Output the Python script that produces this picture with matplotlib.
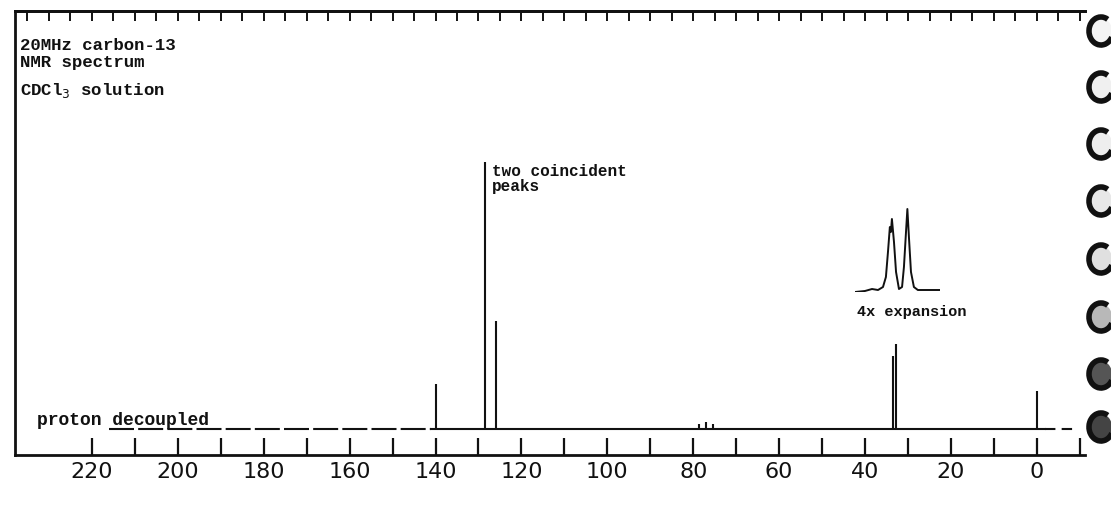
import matplotlib
matplotlib.use('Agg')
import matplotlib.pyplot as plt
from matplotlib.patches import Arc, Ellipse
from matplotlib.ticker import FixedLocator, MultipleLocator

# 13C spectrum, chemical shifts in ppm and peak heights (chart units)
peak_ppm = [139.8, 128.4, 126.0, 78.6, 77.0, 75.4, 33.5, 32.8, 0.0]
peak_height = [45, 267, 108, 5, 7, 5, 73, 85, 38]

# 4x horizontal expansion of the aliphatic pair
exp_ppm = [34.02, 33.44, 33.03, 32.68, 32.39, 32.22, 32.10, 31.99, 31.93,
           31.87, 31.75, 31.63, 31.46, 31.28, 31.17, 31.05, 30.97, 30.88,
           30.76, 30.59, 30.36, 29.66, 29.07]
exp_int = [0, 1, 3, 2, 5, 15, 40, 65, 60, 73, 50, 20, 3, 5, 25, 60, 83, 55,
           20, 5, 2, 2, 2]

tick_ppm = [220, 200, 180, 160, 140, 120, 100, 80, 60, 40, 20, 0]
minor_ppm = [210, 190, 170, 150, 130, 110, 90, 70, 50, 30, 10, -10]

W, H = 1111, 506
INK = '#111111'
MONO = 'Liberation Mono'


def fx(px):
    return px / W


def fy(py):
    return 1 - py / H


fig = plt.figure(figsize=(W / 100, H / 100), dpi=100)
fig.patch.set_facecolor('white')

ax = fig.add_axes([fx(15), fy(456), fx(1085) - fx(15), fy(12) - fy(456)])
ax.set_xlim(237.9, -11.2)
ax.set_ylim(-26, 418)

# baseline: dashed stretch on the left, solid through the peaks
ax.plot([216, 141], [0, 0], color=INK, lw=1.5, ls=(0, (12, 2)))
ax.plot([141, -2], [0, 0], color=INK, lw=1.5)
ax.plot([-2, -9], [0, 0], color=INK, lw=1.5, ls=(0, (5, 3)))
ax.vlines(peak_ppm, 0, peak_height, color=INK, lw=1.5)

for side in ('left', 'top', 'bottom'):
    ax.spines[side].set_linewidth(2.0)
    ax.spines[side].set_color(INK)
ax.spines['right'].set_visible(False)

ax.set_yticks([])
ax.set_xticks(tick_ppm)
ax.set_xticklabels([str(t) for t in tick_ppm], fontsize=16, color=INK)
ax.xaxis.set_minor_locator(FixedLocator(minor_ppm))
ax.tick_params(axis='x', which='both', direction='in', length=12, width=1.6,
               color=INK, pad=4)

# chart-paper graduations along the top edge
top = ax.secondary_xaxis('top')
top.xaxis.set_major_locator(MultipleLocator(5))
top.tick_params(direction='in', length=7, width=1.4, color=INK, labeltop=False)
top.spines['top'].set_linewidth(2.0)

# expansion trace
ins = fig.add_axes([fx(855), fy(293), fx(940) - fx(855), fy(200) - fy(293)])
ins.plot(exp_ppm, exp_int, color=INK, lw=1.4)
ins.set_xlim(34.02, 29.07)
ins.set_ylim(0, 93)
ins.axis('off')

fig.text(fx(20), fy(46), '20MHz carbon-13', family=MONO, fontsize=12.5,
         weight='bold', color=INK, va='center')
fig.text(fx(20), fy(63), 'NMR spectrum', family=MONO, fontsize=12.5,
         weight='bold', color=INK, va='center')
fig.text(fx(20), fy(90), r'CDCl$_3$ solution', family=MONO, fontsize=12.5,
         weight='bold', color=INK, va='center')
fig.text(fx(492), fy(172), 'two coincident', family=MONO, fontsize=11.5,
         weight='bold', color=INK, va='center')
fig.text(fx(492), fy(187), 'peaks', family=MONO, fontsize=11.5,
         weight='bold', color=INK, va='center')
fig.text(fx(857), fy(312), '4x expansion', family=MONO, fontsize=11,
         weight='bold', color=INK, va='center')
fig.text(fx(37), fy(421), 'proton decoupled', family=MONO, fontsize=13,
         weight='bold', color=INK, va='center')

# binder holes down the right margin
hole_y = [32, 88, 145, 202, 260, 318, 375, 428]
hole_fill = ['#f4f4f4', '#f0f0f0', '#eeeeee', '#e8e8e8', '#e0e0e0',
             '#b8b8b8', '#555555', '#444444']
for yc, fc in zip(hole_y, hole_fill):
    centre = (1101 / 100, (H - yc) / 100)
    fig.add_artist(Ellipse(centre, 0.22, 0.26, facecolor=fc, edgecolor='none',
                           transform=fig.dpi_scale_trans))
    fig.add_artist(Arc(centre, 0.24, 0.28, theta1=60, theta2=330, lw=4,
                       color=INK, transform=fig.dpi_scale_trans))

fig.savefig('out.png', dpi=100, facecolor='white')
